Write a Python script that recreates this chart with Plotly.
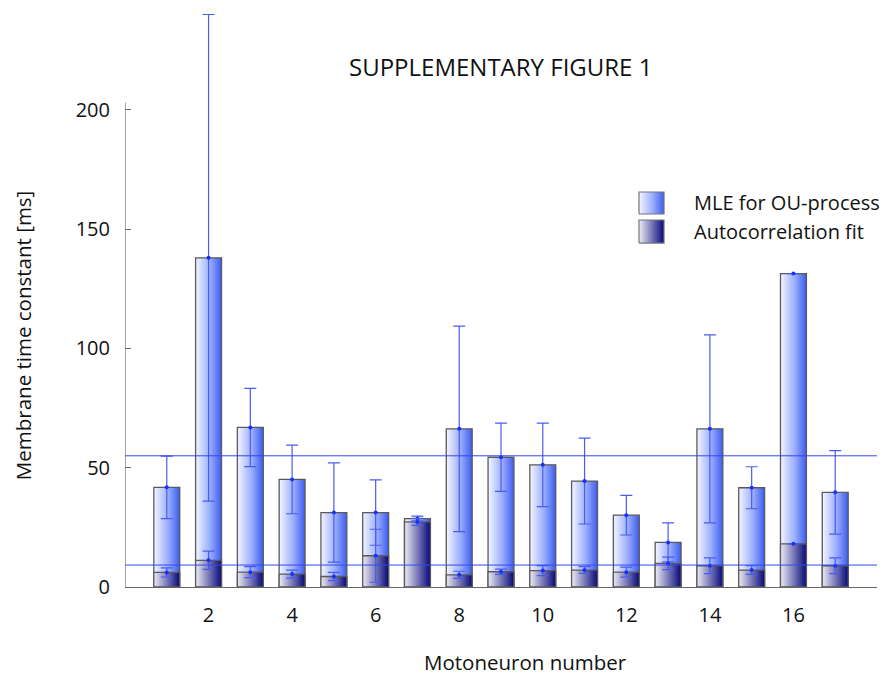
import plotly.graph_objects as go

# ---- data ----
neurons = list(range(1, 18))
mle_vals = [41.8, 138.0, 66.9, 45.1, 31.2, 31.2, 28.7, 66.3, 54.4, 51.2, 44.4, 30.1, 18.7, 66.3, 41.6, 131.4, 39.7]
mle_err = [13.1, 102.0, 16.4, 14.4, 20.8, 13.7, 1.0, 43.1, 14.3, 17.5, 18.0, 8.3, 8.2, 39.4, 8.8, None, 17.5]
ac_vals = [6.1, 11.2, 6.2, 5.4, 4.4, 13.1, 27.3, 5.1, 6.4, 6.9, 7.1, 6.2, 9.9, 8.9, 7.1, 18.1, 8.9]
ac_err = [1.9, 3.8, 2.3, 1.7, 1.7, 11.1, 1.5, 1.5, 1.1, 2.1, 1.4, 2.1, 2.6, 3.3, 1.8, None, 3.3]
ref_lines = [55.0, 9.2]
xticks = [2, 4, 6, 8, 10, 12, 14, 16]
series_names = ["MLE for OU-process", "Autocorrelation fit"]

BAR_W = 0.62
FONT = "Open Sans"
mle_scale = [[0, "#f4f6ff"], [0.55, "#9aaefc"], [1, "#3c5cf2"]]
ac_scale = [[0, "#ececf4"], [0.5, "#7a7ab8"], [1, "#08087a"]]
OUTLINE = dict(color="#5a5a5a", width=1.3)

fig = go.Figure()


def add_bars(vals, scale):
    for x, v in zip(neurons, vals):
        x0, x1 = x - BAR_W / 2, x + BAR_W / 2
        fig.add_trace(go.Scatter(
            x=[x0, x1, x1, x0, x0], y=[0, 0, v, v, 0],
            mode="lines", fill="toself",
            fillgradient=dict(type="horizontal", colorscale=scale, start=x0, stop=x1),
            line=OUTLINE, showlegend=False, hoverinfo="skip"))


add_bars(mle_vals, mle_scale)
add_bars(ac_vals, ac_scale)

for vals, errs in [(mle_vals, mle_err), (ac_vals, ac_err)]:
    fig.add_trace(go.Scatter(
        x=neurons, y=vals, mode="markers",
        marker=dict(color="#1530ff", size=4),
        error_y=dict(type="data", array=errs, symmetric=True,
                     color="#4a5cf0", thickness=1.2, width=6),
        showlegend=False, hoverinfo="skip"))

# ---- legend (swatches drawn on a hidden paper-like axis pair) ----
legend_x = (0.6835, 0.7168)
legend_y = [(0.6398, 0.6775), (0.590, 0.6295)]
legend_text_y = [0.6587, 0.6106]
for name, scale, (y0, y1), ty in zip(series_names, [mle_scale, ac_scale], legend_y, legend_text_y):
    x0, x1 = legend_x
    fig.add_trace(go.Scatter(
        x=[x0, x1, x1, x0, x0], y=[y0, y0, y1, y1, y0],
        xaxis="x2", yaxis="y2", mode="lines", fill="toself",
        fillgradient=dict(type="horizontal", colorscale=scale, start=x0, stop=x1),
        line=dict(color="#777777", width=1.2), showlegend=False, hoverinfo="skip",
        name=name))
    fig.add_annotation(text=name, xref="paper", yref="paper", x=0.754, y=ty,
                       xanchor="left", yanchor="middle", showarrow=False,
                       font=dict(family=FONT, size=20, color="#111111"))

for r in ref_lines:
    fig.add_shape(type="line", xref="x", yref="y", x0=0, x1=18, y0=r, y1=r,
                  line=dict(color="#3347ee", width=1), layer="above")

# y axis line only up to just above 200
fig.add_shape(type="line", xref="x", yref="y", x0=0, x1=0, y0=0, y1=203,
              line=dict(color="#666666", width=1.2), layer="above")

fig.add_annotation(text="SUPPLEMENTARY FIGURE 1", xref="paper", yref="paper",
                   x=0.499, y=0.892, xanchor="center", yanchor="middle", showarrow=False,
                   font=dict(family=FONT, size=24, color="#111111"))
fig.add_annotation(text="Motoneuron number", xref="paper", yref="paper",
                   x=0.532, y=-0.128, xanchor="center", yanchor="middle", showarrow=False,
                   font=dict(family=FONT, size=20.5, color="#111111"))
fig.add_annotation(text="Membrane time constant [ms]", xref="paper", yref="paper",
                   x=-0.1356, y=0.432, xanchor="center", yanchor="middle", showarrow=False,
                   textangle=-90, font=dict(family=FONT, size=20.5, color="#111111"))

fig.update_layout(
    width=885, height=675,
    margin=dict(l=125, r=8, t=4, b=88),
    paper_bgcolor="white", plot_bgcolor="rgba(0,0,0,0)",
    font=dict(family=FONT, color="#111111", size=20),
    showlegend=False,
    xaxis=dict(range=[0, 18], tickvals=xticks, ticks="", showgrid=False,
               zeroline=False, showline=True, linecolor="#666666", linewidth=1.2,
               ticklabelstandoff=10, tickfont=dict(size=20)),
    yaxis=dict(range=[0, 244.4], tickvals=[0, 50, 100, 150, 200], ticks="inside",
               ticklen=6, tickcolor="#666666", showgrid=False, zeroline=False,
               showline=False, ticklabelstandoff=14, tickfont=dict(size=20)),
    xaxis2=dict(domain=[0, 1], range=[0, 1], visible=False, anchor="y2"),
    yaxis2=dict(domain=[0, 1], range=[0, 1], visible=False, anchor="x2"),
)

fig.write_html("out.html")
